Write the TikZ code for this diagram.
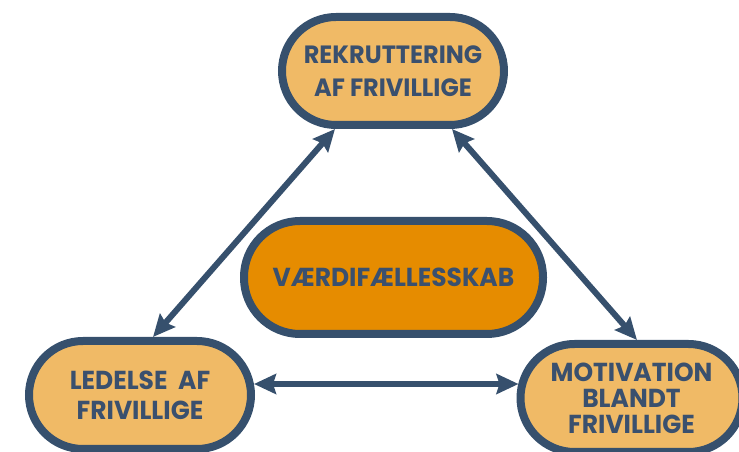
\documentclass[tikz,border=0pt]{standalone}
\usepackage{fontspec}
\setmainfont{Poppins}[FakeStretch=0.96]
\usetikzlibrary{arrows.meta,calc}
\definecolor{bord}{RGB}{54,80,109}
\definecolor{txt}{RGB}{58,80,110}
\definecolor{lightor}{RGB}{240,186,102}
\definecolor{darkor}{RGB}{230,140,0}
\tikzset{
  pill/.style={draw=bord, line width=8pt, fill=lightor, rounded corners=54pt,
    minimum width=222pt, minimum height=108pt, inner sep=0pt, align=center,
    text=txt, font=\fontsize{26}{30}\selectfont\bfseries},
  core/.style={pill, fill=darkor, rounded corners=56pt, minimum width=299pt, minimum height=113pt},
  arr/.style={draw=bord, line width=6pt, {Stealth[length=22pt,width=20pt,inset=3pt]}-{Stealth[length=22pt,width=20pt,inset=3pt]}}
}
\begin{document}
\begin{tikzpicture}[x=1pt,y=1pt]
\useasboundingbox (0,0) rectangle (739,452);
\node[pill, font=\fontsize{25}{33}\selectfont\bfseries] (top) at (393,381) {REKRUTTERING\\AF FRIVILLIGE};
\node[pill] (left) at (140,57) {LEDELSE\ \ AF\\FRIVILLIGE};
\node[pill, font=\fontsize{26}{26}\selectfont\bfseries] (right) at (631.5,54) {MOTIVATION\\BLANDT\\FRIVILLIGE};
\node[core] (mid) at (393.5,174.5) {VÆRDIFÆLLESSKAB};
\draw[arr] ($(left.north)+(13,0)$) -- ($(top.south)+(-58,0)$);
\draw[arr] ($(top.south)+(59,0)$) -- ($(right.north)+(5.5,0)$);
\draw[arr] ($(left.east)+(-1,11)$) -- ($(right.west)+(2,14)$);
\end{tikzpicture}
\end{document}
